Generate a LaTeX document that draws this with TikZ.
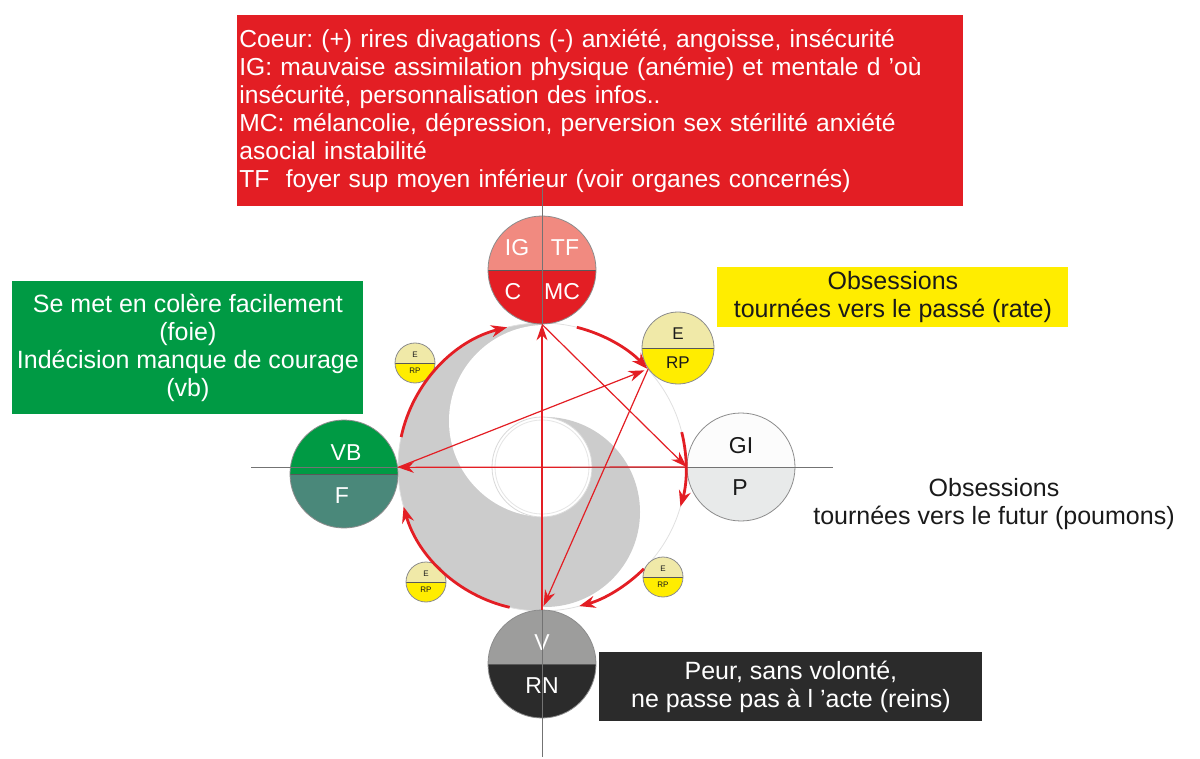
\documentclass[tikz,border=0pt]{standalone}
\usepackage{fontspec}
\setmainfont{Liberation Sans}
\usepackage{tikz}
\usetikzlibrary{arrows.meta, positioning}
\frenchspacing

\definecolor{coeur}{HTML}{E31E24}
\definecolor{coeurclair}{HTML}{F18A80}
\definecolor{vbvert}{HTML}{009A44}
\definecolor{foie}{HTML}{4A887A}
\definecolor{gi}{HTML}{FCFCFC}
\definecolor{poumon}{HTML}{E8EAEA}
\definecolor{vessie}{HTML}{9D9D9C}
\definecolor{rein}{HTML}{2B2B2B}
\definecolor{estomac}{HTML}{F0E9A8}
\definecolor{rate}{HTML}{FFED00}
\definecolor{yin}{HTML}{CCCCCC}
\definecolor{encre}{HTML}{1A1A1A}

\tikzset{
  organ/.style n args={3}{circle, draw=black!45, minimum size=#1, inner sep=0pt,
    path picture={
      \fill[#2] (path picture bounding box.north west) rectangle (path picture bounding box.east);
      \fill[#3] (path picture bounding box.west) rectangle (path picture bounding box.south east);
      \draw[black!65] (path picture bounding box.west) -- (path picture bounding box.east);
    }},
  notebox/.style={font=\fontsize{12.5}{14}\selectfont, inner sep=1pt},
  lbl/.style={font=\fontsize{11.5}{13}\selectfont, inner sep=0pt},
  midlbl/.style={font=\fontsize{8.5}{10}\selectfont, inner sep=0pt, text=encre},
  tinylbl/.style={font=\fontsize{4}{5}\selectfont, inner sep=0pt, text=encre},
  axis/.style={black!55, line width=0.5pt},
  cyclearrow/.style={coeur, line width=1.4pt, -{Stealth[length=8pt, width=6pt]}},
  starrow/.style={coeur, line width=0.6pt, -{Stealth[length=8pt, width=5.5pt]}},
}

\begin{document}
\begin{tikzpicture}[x=0.5pt, y=-0.5pt]
  \useasboundingbox (0,0) rectangle (1200,759);

  % boites de texte
  \node[notebox, font=\fontsize{12.3}{14}\selectfont, fill=coeur, text=white,
        anchor=north west, text width=361pt, minimum height=95.5pt, align=left]
        (noteheart) at (237,15)
    {Coeur: (+) rires divagations (-) anxiété, angoisse, insécurité\\
     IG: mauvaise assimilation physique (anémie) et mentale d ’où\\
     insécurité, personnalisation des infos..\\
     MC: mélancolie, dépression, perversion sex stérilité anxiété\\
     asocial instabilité\\
     TF~~foyer sup moyen inférieur (voir organes concernés)};
  \node[notebox, fill=vbvert, text=white, anchor=north west, minimum width=175.5pt,
        minimum height=66.5pt, align=center] (notewood) at (12,281)
    {Se met en colère facilement\\(foie)\\Indécision manque de courage\\(vb)};
  \node[notebox, fill=rate, text=encre, anchor=north west, minimum width=175.5pt,
        minimum height=30pt, align=center] (noteearth) at (717,267)
    {Obsessions\\tournées vers le passé (rate)};
  \node[notebox, text=encre, align=center] (notemetal) at (994,504)
    {Obsessions\\tournées vers le futur (poumons)};
  \node[notebox, fill=rein, text=white, anchor=north west, minimum width=191.5pt,
        minimum height=34.5pt, align=center] (notewater) at (599,652)
    {Peur, sans volonté,\\ne passe pas à l ’acte (reins)};

  % cercle central (yin yang)
  \coordinate (centre) at (542,467);
  \fill[white] (centre) circle[radius=72pt];
  \begin{scope}
    \clip (centre) circle[radius=72pt];
    \fill[yin] (396,320) rectangle (542,615);
    \fill[white] (545,421) circle[radius=48pt];
    \clip (542,320) rectangle (700,615);
    \fill[yin] (545,512) circle[radius=47.5pt];
  \end{scope}
  \draw[black!12] (centre) circle[radius=72pt];
  \draw[black!15, fill=white] (centre) circle[radius=25pt];
  \draw[black!10] (centre) circle[radius=23.5pt];

  % organes
  \node[organ={54pt}{coeurclair}{coeur}] (fire) at (542,270) {};
  \node[organ={54pt}{vbvert}{foie}] (wood) at (344,474) {};
  \node[organ={54pt}{gi}{poumon}] (metal) at (741,467) {};
  \node[organ={54pt}{vessie}{rein}] (water) at (542,664) {};
  \node[organ={36pt}{estomac}{rate}] (earth) at (678,348) {};
  \node[organ={20pt}{estomac}{rate}] (earthA) at (415,363) {};
  \node[organ={20pt}{estomac}{rate}] (earthB) at (426,582) {};
  \node[organ={20pt}{estomac}{rate}] (earthC) at (663,577) {};

  \node[lbl, text=white] at (517,248) {IG};
  \node[lbl, text=white] at (565,248) {TF};
  \node[lbl, text=white] at (513,292) {C};
  \node[lbl, text=white] at (562,292) {MC};
  \node[lbl, text=white] at (346,453) {VB};
  \node[lbl, text=white] at (342,496) {F};
  \node[lbl, text=encre] at (741,446) {GI};
  \node[lbl, text=encre] at (740,488) {P};
  \node[lbl, text=white] at (542,643) {V};
  \node[lbl, text=white] at (542,686) {RN};
  \node[midlbl] at (678,334) {E};
  \node[midlbl] at (678,363) {RP};
  \foreach \p in {earthA, earthB, earthC}{
    \node[tinylbl] at ([yshift=4pt]\p) {E};
    \node[tinylbl] at ([yshift=-4pt]\p) {RP};
  }

  % axes
  \draw[axis] (542,187) -- (542,757);
  \draw[axis] (251,467) -- (833,467);

  % cycle
  \foreach \a/\b in {168/104, 76/43, 14/-16, -45/-75, 257/196}
    \draw[cyclearrow] ([shift={(\a:72pt)}]centre) arc[start angle=\a, end angle=\b, radius=72pt];

  % etoile
  \draw[starrow] (water.north) -- (fire.south);
  \draw[starrow] (fire.south) -- (metal.west);
  \draw[starrow] (metal.west) -- (wood.7);
  \draw[starrow, shorten >=2pt] (wood.7) -- (earth.215);
  \draw[starrow, shorten >=2pt] (earth.215) -- (water.north);
\end{tikzpicture}
\end{document}
